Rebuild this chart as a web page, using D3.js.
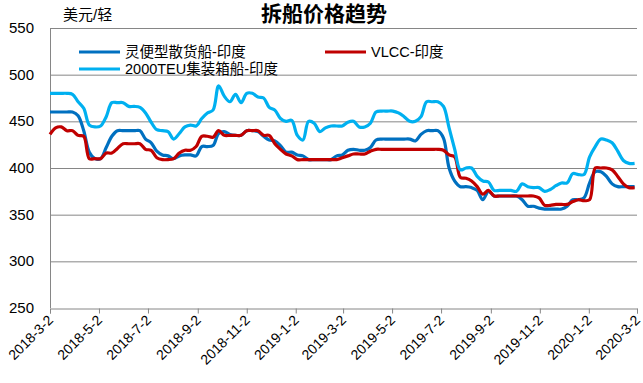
<!DOCTYPE html>
<html><head><meta charset="utf-8">
<script src="https://cdn.jsdelivr.net/npm/d3@7/dist/d3.min.js"></script>
<style>
body{margin:0;background:#fff;}
text{font-family:"Liberation Sans",Arial,"Noto Sans CJK SC",sans-serif;}
</style></head>
<body><svg id="c" width="643" height="383"></svg>
<script>
const startDate = "2018-03-02";
const weekCount = 105;
const xTickLabels = ["2018-3-2","2018-5-2","2018-7-2","2018-9-2","2018-11-2","2019-1-2","2019-3-2","2019-5-2","2019-7-2","2019-9-2","2019-11-2","2020-1-2","2020-3-2"];
const yTicks = [250,300,350,400,450,500,550];
const seriesNames = ["灵便型散货船-印度","VLCC-印度","2000TEU集装箱船-印度"];
const handysize = [460,460,460,460,460,456,440,417,410,410,422,434,440,440,440,440,440,431,427,418,414,413,410,413,414,414,413,423,423,424,437,439,436,435,435,440,440,439,434,430,429,424,417,417,414,413,409,409,409,409,409,413,414,419,420,419,419,422,430,431,431,431,431,431,431,429,436,440,440,440,432,400,386,380,380,379,376,366,375,370,370,370,370,370,366,359,359,357,356,356,356,356,359,366,366,368,384,396,396,391,383,380,380,380,380];
const vlcc = [436,443,444,440,440,435,434,410,410,410,416,416,421,426,426,426,426,420,419,411,409,409,410,416,419,419,423,434,434,433,440,435,435,435,435,440,440,440,435,435,426,420,415,413,409,409,409,409,409,409,409,409,411,413,415,415,415,418,420,420,420,420,420,420,420,420,420,420,420,420,419,414,412,390,389,386,380,372,376,370,370,370,370,370,370,370,370,368,360,360,361,361,361,364,366,365,366,400,400,400,398,391,383,379,379];
const teu2000 = [480,480,480,480,479,471,464,446,444,445,455,470,470,470,466,466,465,459,449,441,440,439,431,437,444,446,445,453,459,462,488,477,471,479,470,480,480,476,475,465,462,453,450,451,435,430,450,448,439,443,445,445,445,449,450,444,444,448,460,461,461,461,459,455,450,450,455,471,471,471,466,443,420,398,400,400,391,386,385,376,376,376,376,375,383,380,379,379,375,377,381,384,384,394,393,393,412,423,431,430,427,418,408,405,405];
const colors = ["#0070C0","#C00000","#00B0F0"];

const parse = d3.timeParse("%Y-%m-%d");
const parseTick = d3.timeParse("%Y-%-m-%-d");
const t0 = parse(startDate);
const dates = d3.range(weekCount).map(i => d3.timeDay.offset(t0, 7*i));

const svg = d3.select("#c");
const L=50, R=637, T=28, B=308;
const x = d3.scaleTime().domain([t0, parseTick("2020-3-2")]).range([L,R]);
const y = d3.scaleLinear().domain([250,550]).range([B,T]);

// gridlines
svg.append("g").selectAll("line").data(yTicks.filter(v=>v>250)).join("line")
  .attr("x1",L).attr("x2",R).attr("y1",d=>y(d)+0.5).attr("y2",d=>y(d)+0.5)
  .attr("stroke","#868686").attr("stroke-width",1);
// y axis line
svg.append("line").attr("x1",L+0.5).attr("x2",L+0.5).attr("y1",T).attr("y2",B)
  .attr("stroke","#868686");
// y labels
svg.append("g").selectAll("text").data(yTicks).join("text")
  .attr("x",34).attr("y",d=>y(d)+5).attr("text-anchor","end")
  .attr("font-size","15px").attr("fill","#000").text(d=>d);

// x axis
const tickDates = xTickLabels.map(s=>parseTick(s));
const xAxis = d3.axisBottom(x).tickValues(tickDates).tickSize(5).tickFormat("");
const gx = svg.append("g").attr("transform",`translate(0,${B+0.5})`).call(xAxis);
gx.select(".domain").attr("stroke","#868686");
gx.selectAll(".tick line").attr("stroke","#868686");
svg.append("g").selectAll("text").data(xTickLabels).join("text")
  .attr("transform",(d,i)=>`translate(${x(tickDates[i])+4},${B+13}) rotate(-45)`)
  .attr("text-anchor","end").attr("font-size","14px").attr("fill","#000").text(d=>d);

// lines
const line = d3.line().x((d,i)=>x(dates[i])).y(d=>y(d)).curve(d3.curveCatmullRom.alpha(0.5));
[handysize, vlcc, teu2000].forEach((s,k)=>{
  svg.append("path").datum(s).attr("d",line).attr("fill","none")
    .attr("stroke",colors[k]).attr("stroke-width",3.2).attr("stroke-linejoin","round");
});

// title
svg.append("text").attr("x",324).attr("y",21).attr("text-anchor","middle")
  .attr("font-size","21px").attr("font-weight","bold").attr("fill","#000").text("拆船价格趋势");
svg.append("text").attr("x",63).attr("y",20).attr("font-size","15px").attr("fill","#000").text("美元/轻");

// legend
const leg = [{k:0,x:79,y:52},{k:1,x:325,y:52},{k:2,x:79,y:69}];
leg.forEach(o=>{
  svg.append("line").attr("x1",o.x).attr("x2",o.x+41).attr("y1",o.y).attr("y2",o.y)
    .attr("stroke",colors[o.k]).attr("stroke-width",3.2);
  svg.append("text").attr("x",o.x+46).attr("y",o.y+5).attr("font-size","14.5px")
    .attr("fill","#000").text(seriesNames[o.k]);
});
</script></body></html>
